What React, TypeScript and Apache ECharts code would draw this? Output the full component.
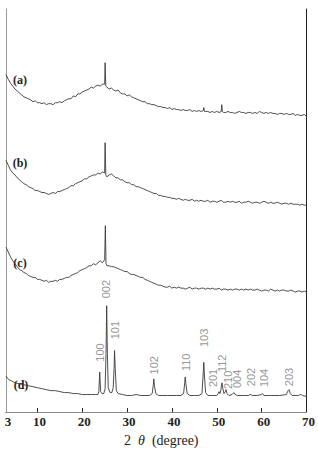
import React, { useEffect, useRef } from "react";
import * as echarts from "echarts";

// 2θ scan grid (0.5° step) for traces (a)-(c)
const THETA_GRID: number[] = Array.from({ length: 135 }, (_, i) => 3 + i * 0.5);

const TRACE_NAMES = ["(a)", "(b)", "(c)", "(d)"];
const OFFSETS = [300, 210, 120, 0];

const CURVE_A = [
  46, 41, 37, 34, 31, 29, 27, 25, 23, 22,
  21, 20, 18, 19, 17, 17, 16, 17, 15, 16,
  16, 15, 17, 17, 18, 17, 19, 20, 21, 21,
  24, 23, 26, 26, 28, 29, 30, 31, 33, 32,
  34, 35, 34, 36, 36, 33, 31, 32, 30, 29,
  30, 27, 26, 26, 24, 25, 23, 22, 21, 20,
  19, 18, 18, 16, 16, 15, 15, 14, 13, 13,
  12, 12, 11, 12, 10, 11, 10, 10, 9, 10,
  9, 9, 10, 8, 9, 8, 9, 8, 9, 8,
  8, 7, 8, 7, 8, 7, 8, 7, 7, 8,
  7, 7, 6, 7, 8, 7, 7, 6, 7, 7,
  6, 7, 6, 8, 7, 6, 7, 6, 7, 6,
  6, 5, 6, 6, 5, 6, 5, 5, 6, 4,
  5, 4, 4, 5, 3,
];
const PEAKS_A: [number, number][] = [[25.1, 58], [25.25, 34], [47.1, 12], [47.25, 8], [51.1, 15], [51.25, 8]];

const CURVE_B = [
  48, 43, 38, 35, 33, 30, 28, 26, 24, 23,
  21, 20, 19, 17, 17, 16, 15, 15, 14, 13,
  14, 15, 14, 16, 16, 17, 18, 19, 20, 22,
  22, 24, 25, 26, 27, 29, 29, 31, 32, 33,
  33, 35, 34, 36, 35, 31, 33, 34, 32, 30,
  30, 28, 28, 26, 25, 25, 23, 23, 21, 21,
  20, 19, 18, 17, 16, 15, 14, 14, 12, 12,
  11, 11, 10, 10, 9, 9, 8, 9, 8, 7,
  8, 7, 7, 8, 6, 7, 6, 7, 6, 6,
  7, 5, 6, 6, 5, 6, 7, 5, 5, 6,
  5, 6, 5, 5, 6, 4, 5, 5, 6, 5,
  4, 5, 5, 4, 5, 6, 5, 4, 5, 4,
  4, 5, 4, 3, 4, 4, 3, 4, 3, 3,
  3, 2, 3, 2, 2,
];
const PEAKS_B: [number, number][] = [[25.1, 66], [25.25, 33]];

const CURVE_C = [
  49, 44, 39, 35, 32, 29, 26, 25, 23, 22,
  20, 19, 18, 18, 16, 16, 15, 14, 15, 13,
  14, 14, 15, 14, 16, 16, 17, 18, 18, 20,
  21, 22, 23, 25, 26, 27, 28, 30, 30, 32,
  31, 33, 35, 33, 36, 30, 30, 29, 29, 28,
  27, 26, 25, 24, 24, 22, 21, 21, 20, 19,
  18, 18, 16, 15, 14, 13, 12, 11, 10, 10,
  9, 8, 8, 9, 7, 8, 7, 8, 7, 7,
  6, 7, 8, 6, 7, 7, 6, 7, 7, 6,
  7, 6, 7, 6, 6, 7, 5, 6, 6, 5,
  6, 5, 6, 6, 5, 6, 5, 6, 5, 6,
  5, 5, 6, 5, 4, 5, 5, 4, 6, 5,
  4, 5, 4, 5, 5, 4, 4, 5, 4, 3,
  4, 4, 3, 4, 3,
];
const PEAKS_C: [number, number][] = [[25.15, 71], [25.3, 32]];

// trace (d): crystalline reference pattern
const D_THETA = [
  3.0, 3.3, 3.7, 4.2, 5, 6, 7, 8, 9, 10, 11, 12, 13, 14, 15, 16, 17, 18, 19, 20, 21, 22, 23,
  23.5, 23.7, 23.9, 24.1, 24.4, 24.8, 25.1, 25.3, 25.45, 25.6, 25.8, 26.2, 26.6, 26.9, 27.1, 27.2, 27.35, 27.6,
  28, 29, 30, 31, 32, 33, 34, 35, 35.6, 35.85, 35.95, 36.1, 36.4, 37, 38, 39, 40, 41, 42,
  42.6, 42.85, 42.95, 43.1, 43.4, 44, 45, 46, 46.7, 46.95, 47.1, 47.25, 47.5, 48, 49, 50,
  50.3, 50.5, 50.7, 50.9, 51.05, 51.15, 51.35, 51.6, 51.9, 52.05, 52.3, 52.7, 53.4, 53.8, 54.1, 54.6,
  56, 57, 57.4, 57.6, 57.9, 59, 59.9, 60.2, 60.5, 62, 64, 65.5, 65.9, 66.1, 66.4, 66.8, 68.2, 68.6, 68.8, 69.1, 70,
];
const D_INTENSITY = [
  37, 35, 33, 32, 30, 29, 28, 27, 26, 25, 24, 23, 22, 22, 21, 20, 20, 19, 19, 18, 18, 18, 18,
  18, 21, 41, 21, 19, 19, 24, 60, 109, 60, 25, 20, 20, 25, 45, 63, 45, 22,
  19, 18, 17, 17, 18, 17, 17, 17, 19, 28, 34, 27, 19, 17, 17, 17, 17, 17, 17,
  19, 30, 36, 29, 19, 17, 17, 17, 19, 38, 51, 37, 20, 17, 17, 17,
  19, 21, 19, 22, 28, 30, 24, 19, 21, 23, 19, 17, 18, 20, 18, 17,
  17, 17, 18, 18, 17, 17, 18, 19, 17, 17, 17, 18, 22, 23, 19, 17, 17, 18, 18, 17, 16,
];

// Miller index labels of trace (d)
const HKL_TEXT = ["100", "002", "101", "102", "110", "103", "201", "112", "210", "004", "202", "104", "203"];
const HKL_THETA = [23.9, 25.4, 27.3, 36.0, 43.1, 47.2, 49.1, 51.2, 52.6, 54.4, 57.7, 60.5, 66.2];
const HKL_LEVEL = [61, 126, 84, 48, 51, 76, 35, 50, 33, 34, 36, 35, 36];

const X_LABELS = [3, 10, 20, 30, 40, 50, 60, 70];
const X_TICKS = [10, 20, 30, 40, 50, 60];

function buildTrace(values: number[], peaks: [number, number][], offset: number) {
  const pts: [number, number][] = THETA_GRID.map((t, i) => [t, values[i]]);
  peaks.forEach((p) => pts.push([p[0], p[1]]));
  pts.sort((p, q) => p[0] - q[0]);
  return pts.map(([t, v]) => [t, v + offset]);
}

export default function App() {
  const ref = useRef<HTMLDivElement>(null);
  useEffect(() => {
    const chart = echarts.init(ref.current!, null, { renderer: "svg" });
    const lineStyle = { color: "#3a3a3a", width: 0.9 };
    const traces = [
      buildTrace(CURVE_A, PEAKS_A, OFFSETS[0]),
      buildTrace(CURVE_B, PEAKS_B, OFFSETS[1]),
      buildTrace(CURVE_C, PEAKS_C, OFFSETS[2]),
      D_THETA.map((t, i) => [t, D_INTENSITY[i] + OFFSETS[3]]),
    ];
    const labelPos = [
      [20, 80],
      [20, 163],
      [20, 263],
      [21, 385],
    ];
    chart.setOption({
      animation: false,
      backgroundColor: "#ffffff",
      grid: { left: 6, right: 7, top: 9, bottom: 30, containLabel: false },
      xAxis: [
        {
          type: "value",
          min: 3,
          max: 70,
          position: "bottom",
          axisLine: { show: true, lineStyle: { color: "#222", width: 1 } },
          axisTick: { show: true, inside: true, length: 4, customValues: X_TICKS, lineStyle: { color: "#222" } },
          axisLabel: {
            customValues: X_LABELS,
            fontFamily: "Liberation Serif",
            fontWeight: "bold",
            fontSize: 13,
            color: "#222",
            margin: 3,
            padding: [0, 0, 0, 4],
          },
          splitLine: { show: false },
          name: "{n|2  }{t|θ}{n|  (degree)}",
          nameLocation: "middle",
          nameGap: 14,
          nameTextStyle: {
            padding: [0, 0, 0, 10],
            rich: {
              n: { fontFamily: "Liberation Serif", fontSize: 14, color: "#222" },
              t: { fontFamily: "Liberation Serif", fontSize: 14, fontStyle: "italic", color: "#222" },
            },
          },
        },
        {
          type: "value",
          min: 3,
          max: 70,
          position: "top",
          axisLine: { show: true, lineStyle: { color: "#8a8a8a", width: 1 } },
          axisTick: { show: false },
          axisLabel: { show: false },
          splitLine: { show: false },
        },
      ],
      yAxis: [
        {
          type: "value",
          min: 0,
          max: 413,
          position: "left",
          axisLine: { show: true, lineStyle: { color: "#9a9a9a", width: 1 } },
          axisTick: { show: false },
          axisLabel: { show: false },
          splitLine: { show: false },
        },
        {
          type: "value",
          min: 0,
          max: 413,
          position: "right",
          axisLine: { show: true, lineStyle: { color: "#222", width: 1 } },
          axisTick: { show: false },
          axisLabel: { show: false },
          splitLine: { show: false },
        },
      ],
      series: [
        ...traces.map((data, i) => ({
          type: "line",
          name: TRACE_NAMES[i],
          xAxisIndex: 0,
          yAxisIndex: 0,
          data,
          showSymbol: false,
          symbol: "none",
          lineStyle,
          silent: true,
        })),
        {
          type: "scatter",
          name: "hkl",
          xAxisIndex: 0,
          yAxisIndex: 0,
          symbolSize: 0,
          silent: true,
          data: HKL_TEXT.map((h, i) => ({ name: h, value: [HKL_THETA[i], HKL_LEVEL[i]] })),
          label: {
            show: true,
            formatter: "{b}",
            rotate: 90,
            position: "inside",
            fontFamily: "Liberation Sans",
            fontSize: 11,
            color: "#7a7a7a",
          },
        },
      ],
      graphic: TRACE_NAMES.map((t, i) => ({
        type: "text",
        x: labelPos[i][0],
        y: labelPos[i][1],
        style: {
          text: t,
          font: 'bold 12px "Liberation Serif"',
          fill: "#222",
          align: "center",
          verticalAlign: "middle",
        },
      })),
    });
    return () => chart.dispose();
  }, []);
  return (
    <div
      ref={ref}
      style={{ position: "absolute", left: 0, top: 0, width: 318, height: 452, background: "#fff" }}
    />
  );
}
